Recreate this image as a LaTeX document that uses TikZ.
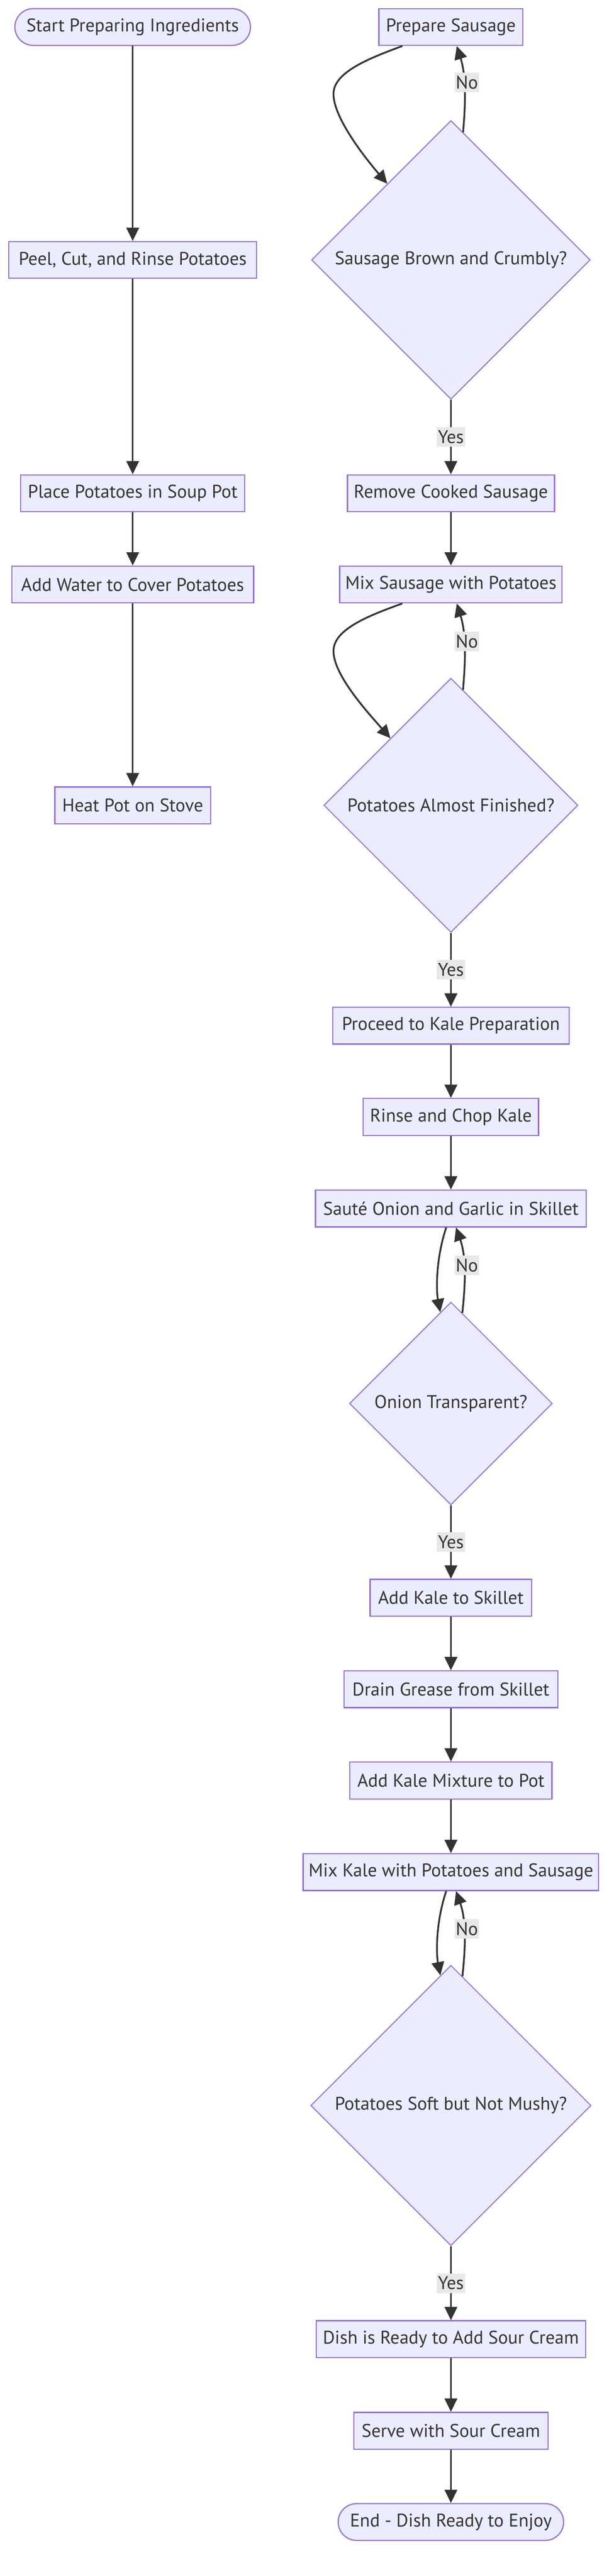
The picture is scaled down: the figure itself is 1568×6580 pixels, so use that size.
\documentclass[tikz,border=0pt]{standalone}
\usepackage{fontspec}
\setmainfont{PT Sans}
\usetikzlibrary{shapes.geometric,arrows.meta,calc}
\definecolor{nodefill}{HTML}{ECECFF}
\definecolor{nodeline}{HTML}{9370DB}
\definecolor{ink}{HTML}{333333}
\definecolor{lblbg}{HTML}{E8E8E8}
\begin{document}
\begin{tikzpicture}[x=1pt,y=-1pt,
  every node/.style={font=\fontsize{47}{56}\selectfont, text=ink},
  box/.style={draw=nodeline, fill=nodefill, line width=3pt, minimum height=94pt, inner sep=0pt, minimum width=#1},
  term/.style={box=#1, rounded corners=47pt},
  dec/.style={diamond, draw=nodeline, fill=nodefill, line width=2.5pt, aspect=1, inner sep=0pt, minimum width=#1, minimum height=#1},
  arr/.style={draw=ink, line width=4.5pt, -{Triangle[length=34pt,width=32pt]}},
  lbl/.style={fill=lblbg, inner xsep=3pt, inner ysep=0pt, minimum height=50pt}
]
\useasboundingbox[fill=white] (0,0) rectangle (1568,6580);

% left column
\node[term=602pt] (start) at (339,69) {Start Preparing Ingredients};
\node[box=633pt] (peel) at (339,664) {Peel, Cut, and Rinse Potatoes};
\node[box=573pt] (place) at (339,1260) {Place Potatoes in Soup Pot};
\node[box=618pt] (water) at (339,1493) {Add Water to Cover Potatoes};
\node[box=398pt] (heat) at (339,2057) {Heat Pot on Stove};

% right column
\node[box=368pt] (ps) at (1152,69) {Prepare Sausage};
\node[dec=712pt] (d1) at (1152,664) {Sausage Brown and Crumbly?};
\node[box=529pt] (remove) at (1152,1260) {Remove Cooked Sausage};
\node[box=568pt] (mixs) at (1152,1493) {Mix Sausage with Potatoes};
\node[dec=649pt] (d2) at (1152,2057) {Potatoes Almost Finished?};
\node[box=604pt] (proceed) at (1152,2620) {Proceed to Kale Preparation};
\node[box=448pt] (rinse) at (1152,2853) {Rinse and Chop Kale};
\node[box=692pt] (saute) at (1152,3087) {Sauté Onion and Garlic in Skillet};
\node[dec=518pt] (d3) at (1152,3585) {Onion Transparent?};
\node[box=413pt] (addkale) at (1152,4081) {Add Kale to Skillet};
\node[box=546pt] (drain) at (1152,4315) {Drain Grease from Skillet};
\node[box=516pt] (addmix) at (1152,4548) {Add Kale Mixture to Pot};
\node[box=755pt] (mixk) at (1152,4782) {Mix Kale with Potatoes and Sausage};
\node[dec=716pt] (d4) at (1152,5378) {Potatoes Soft but Not Mushy?};
\node[box=688pt] (dish) at (1152,5975) {Dish is Ready to Add Sour Cream};
\node[box=496pt] (serve) at (1152,6209) {Serve with Sour Cream};
\node[term=576pt] (end) at (1152,6442) {End - Dish Ready to Enjoy};

% left column edges
\draw[arr] (start) -- (peel);
\draw[arr] (peel) -- (place);
\draw[arr] (place) -- (water);
\draw[arr] (water) -- (heat);

% loop 1
\coordinate (l1s) at ($(ps.south)+(-124,0)$);
\coordinate (l1e) at ($(d1.north)!0.455!(d1.west)$);
\draw[arr] (l1s) .. controls (940,150) and (852,185) .. (852,240) .. controls (852,300) and (930,400) .. (l1e);
\coordinate (r1s) at ($(d1.north)!0.087!(d1.east)$);
\coordinate (r1e) at ($(ps.south)+(15,0)$);
\draw[arr] (r1s) .. controls (1188,280) and (1193,200) .. (r1e);
\node[lbl] (no1) at (1193,211) {No};

\draw[arr] (d1) -- node[lbl] (yes1) {Yes} (remove);
\draw[arr] (remove) -- (mixs);

% loop 2
\coordinate (l2s) at ($(mixs.south)+(-124,0)$);
\coordinate (l2e) at ($(d2.north)!0.474!(d2.west)$);
\draw[arr] (l2s) .. controls (940,1573) and (852,1608) .. (852,1663) .. controls (852,1723) and (935,1815) .. (l2e);
\coordinate (r2s) at ($(d2.north)!0.095!(d2.east)$);
\coordinate (r2e) at ($(mixs.south)+(15,0)$);
\draw[arr] (r2s) .. controls (1188,1700) and (1193,1625) .. (r2e);
\node[lbl] (no2) at (1193,1638) {No};

\draw[arr] (d2) -- node[lbl] (yes2) {Yes} (proceed);
\draw[arr] (proceed) -- (rinse);
\draw[arr] (rinse) -- (saute);

% loop 3
\coordinate (l3s) at ($(saute.south)+(-12,0)$);
\coordinate (l3e) at ($(d3.north)!0.104!(d3.west)$);
\draw[arr] (l3s) .. controls (1112,3220) and (1115,3300) .. (l3e);
\coordinate (r3s) at ($(d3.north)!0.112!(d3.east)$);
\coordinate (r3e) at ($(saute.south)+(13,0)$);
\draw[arr] (r3s) .. controls (1188,3290) and (1193,3215) .. (r3e);
\node[lbl] (no3) at (1193,3232) {No};

\draw[arr] (d3) -- node[lbl] (yes3) {Yes} (addkale);
\draw[arr] (addkale) -- (drain);
\draw[arr] (drain) -- (addmix);
\draw[arr] (addmix) -- (mixk);

% loop 4
\coordinate (l4s) at ($(mixk.south)+(-12,0)$);
\coordinate (l4e) at ($(d4.north)!0.075!(d4.west)$);
\draw[arr] (l4s) .. controls (1112,4914) and (1115,4994) .. (l4e);
\coordinate (r4s) at ($(d4.north)!0.082!(d4.east)$);
\coordinate (r4e) at ($(mixk.south)+(13,0)$);
\draw[arr] (r4s) .. controls (1188,4985) and (1193,4910) .. (r4e);
\node[lbl] (no4) at (1193,4927) {No};

\draw[arr] (d4) -- node[lbl] (yes4) {Yes} (dish);
\draw[arr] (dish) -- (serve);
\draw[arr] (serve) -- (end);
\end{tikzpicture}
\end{document}
